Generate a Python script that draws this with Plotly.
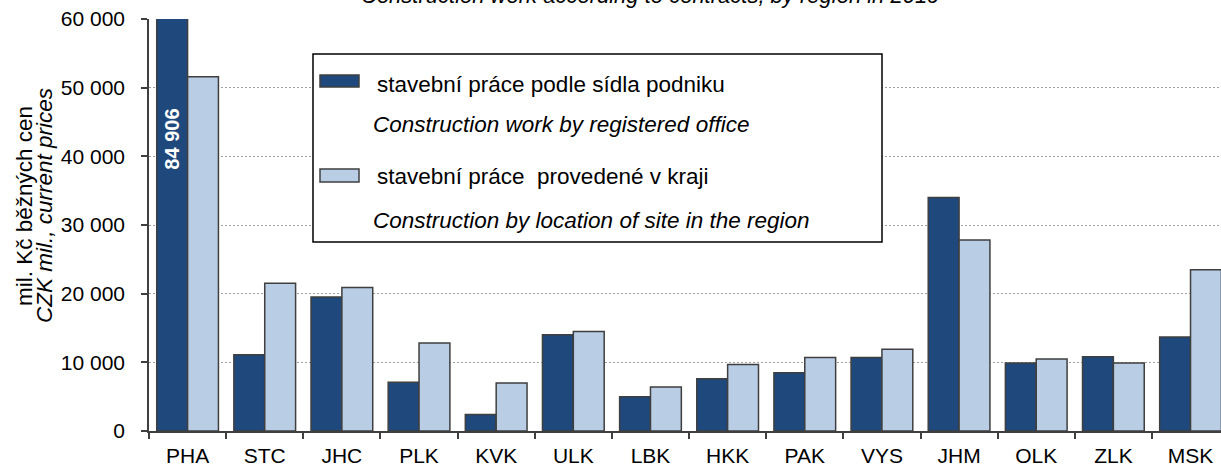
import plotly.graph_objects as go

regions = ["PHA", "STC", "JHC", "PLK", "KVK", "ULK", "LBK", "HKK", "PAK", "VYS", "JHM", "OLK", "ZLK", "MSK"]
by_office = [84906, 11100, 19500, 7100, 2400, 14000, 5000, 7600, 8500, 10700, 34000, 9900, 10800, 13700]
by_site = [51600, 21500, 20900, 12800, 7000, 14500, 6400, 9700, 10700, 11900, 27800, 10500, 9900, 23500]
y_ticks = [0, 10000, 20000, 30000, 40000, 50000, 60000]

name_office_cz = "stavební práce podle sídla podniku"
name_office_en = "Construction work by registered office"
name_site_cz = "stavební práce  provedené v kraji"
name_site_en = "Construction by location of site in the region"
ytitle_cz = "mil. Kč běžných cen"
ytitle_en = "CZK mil., current prices"
title_en = "Construction work according to contracts, by region in 2019"

DARK = "#1f487c"
LIGHT = "#b9cde5"
EDGE = "#3f3f3f"
FONT = "Liberation Sans, Arial, sans-serif"

W, H = 1221, 468
ML, MR, MT, MB = 149, 0, 19, 37
PW = W - ML - MR
PH = H - MT - MB


def px(x):
    return (x - ML) / PW


def py(y):
    return (H - MB - y) / PH


fig = go.Figure()
fig.add_trace(go.Bar(x=regions, y=by_office, name=name_office_cz, marker=dict(color=DARK, line=dict(color=EDGE, width=1.5)), showlegend=False))
fig.add_trace(go.Bar(x=regions, y=by_site, name=name_site_cz, marker=dict(color=LIGHT, line=dict(color=EDGE, width=1.5)), showlegend=False))

cat_w = 77.15
right_end = (PW / cat_w) - 0.5

fig.update_layout(
    width=W, height=H,
    margin=dict(l=ML, r=MR, t=MT, b=MB, pad=0),
    paper_bgcolor="white", plot_bgcolor="white",
    barmode="group", bargap=0.2, bargroupgap=0,
    separators=", ",
    font=dict(family=FONT, size=21, color="black"),
    xaxis=dict(
        type="category", range=[-0.5, right_end],
        showline=True, linecolor=EDGE, linewidth=1.5,
        ticks="outside", tickson="boundaries", ticklen=6, tickcolor=EDGE, tickwidth=1.5,
        showgrid=False, tickfont=dict(size=21), ticklabelstandoff=5,
    ),
    yaxis=dict(
        range=[0, 60000], tickvals=y_ticks, tickformat=",d",
        showline=True, linecolor=EDGE, linewidth=1.5,
        ticks="outside", ticklen=6, tickcolor=EDGE, tickwidth=1.5,
        showgrid=True, gridcolor="#a0a0a0", griddash="2px,2px", gridwidth=1,
        zeroline=False, tickfont=dict(size=21), ticklabelstandoff=12,
    ),
)

# value label for the clipped PHA bar
fig.add_annotation(x=-0.2, y=by_office[0] / 2, xref="x", yref="y", text="<b>84 906</b>",
                   textangle=-90, showarrow=False, font=dict(color="white", size=20, family=FONT))

# y-axis titles
fig.add_annotation(x=px(24), y=py(206), xref="paper", yref="paper", text=ytitle_cz, textangle=-90,
                   showarrow=False, font=dict(size=22.5), xanchor="center", yanchor="middle")
fig.add_annotation(x=px(44), y=py(206), xref="paper", yref="paper", text="<i>" + ytitle_en + "</i>", textangle=-90,
                   showarrow=False, font=dict(size=22.5), xanchor="center", yanchor="middle")

# cut-off chart title at the very top
fig.add_annotation(x=px(650), y=py(10), xref="paper", yref="paper", text="<i>" + title_en + "</i>",
                   showarrow=False, font=dict(size=22), xanchor="center", yanchor="bottom")

# legend box
fig.add_shape(type="rect", xref="paper", yref="paper", x0=px(313), x1=px(882), y0=py(242), y1=py(54),
              line=dict(color="black", width=1.5), fillcolor="white", layer="above")
fig.add_shape(type="rect", xref="paper", yref="paper", x0=px(320), x1=px(359), y0=py(87), y1=py(75),
              line=dict(color=EDGE, width=1.5), fillcolor=DARK, layer="above")
fig.add_shape(type="rect", xref="paper", yref="paper", x0=px(320), x1=px(359), y0=py(182), y1=py(169),
              line=dict(color=EDGE, width=1.5), fillcolor=LIGHT, layer="above")
legend_rows = [(name_office_cz, 375, 84, False), (name_office_en, 371, 124, True),
               (name_site_cz, 375, 176, False), (name_site_en, 371, 220, True)]
for txt, x0, yc, ital in legend_rows:
    fig.add_annotation(x=px(x0), y=py(yc), xref="paper", yref="paper",
                       text=("<i>" + txt + "</i>") if ital else txt,
                       showarrow=False, xanchor="left", yanchor="middle", font=dict(size=22.5))

fig.write_html("out.html", config={"displayModeBar": False},
               post_script="document.body.style.margin='0px';document.body.style.overflow='hidden';")
